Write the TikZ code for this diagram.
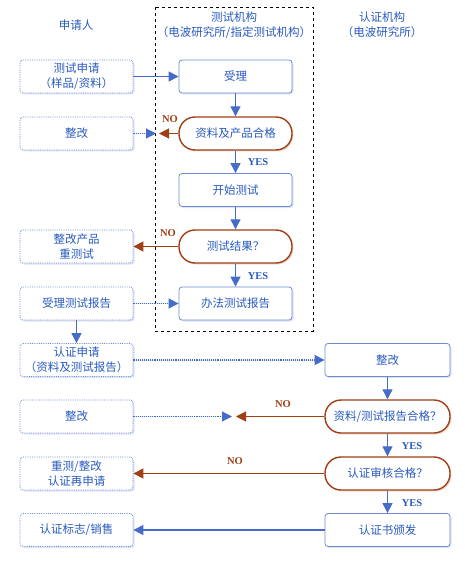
\documentclass[tikz,border=0pt]{standalone}
\usepackage{fontspec}
\setmainfont{Noto Sans CJK SC}
\newfontfamily\labfont{Liberation Serif}
\usepackage{xcolor}
\usetikzlibrary{arrows.meta,shadows}

\definecolor{flowblue}{RGB}{68,108,200}
\definecolor{textblue}{RGB}{40,90,190}
\definecolor{edgeblue}{RGB}{110,140,210}
\definecolor{nobrown}{RGB}{160,62,20}

\begin{document}
\begin{tikzpicture}[x=1pt,y=-1pt,
    font=\fontsize{11.5}{15}\selectfont\color{textblue},
    box/.style={rectangle,rounded corners=3pt,draw=edgeblue,fill=white,
      minimum width=#1,minimum height=33pt,inner sep=1pt,align=center,
      drop shadow={shadow xshift=1.5pt,shadow yshift=-1.5pt,fill=edgeblue!40,opacity=0.6}},
    appbox/.style={box=113pt,densely dotted,thick},
    labbox/.style={box=113pt,thick},
    certbox/.style={box=125pt,thick},
    decide/.style={rectangle,rounded corners=16pt,draw=nobrown,line width=1.4pt,fill=white,
      minimum width=#1,minimum height=33pt,inner sep=1pt,
      drop shadow={shadow xshift=1.5pt,shadow yshift=-1.5pt,fill=nobrown!30,opacity=0.6}},
    flow/.style={draw=flowblue,line width=1.1pt,-{Triangle[width=10pt,length=10pt]},fill=flowblue},
    noflow/.style={draw=nobrown,line width=1.1pt,-{Triangle[width=10pt,length=10pt]},fill=nobrown},
    yes/.style={font=\labfont\bfseries\fontsize{10.5}{12}\selectfont\color{textblue}},
    no/.style={font=\labfont\bfseries\fontsize{10.5}{12}\selectfont\color{nobrown}}]
  \useasboundingbox (0,0) rectangle (464,561);

  % headers
  \node (h1) at (76,25) {申请人};
  \node[align=center] (h2) at (234,25) {测试机构\\（电波研究所/指定测试机构）};
  \node[align=center] (h3) at (382,25) {认证机构\\（电波研究所）};
  \draw[thick,dashed] (155,7) rectangle (313,331);

  % applicant
  \node[appbox] (sq)  at (76.5,76.5)  {测试申请\\（样品/资料）};
  \node[appbox] (zg1) at (76.5,133.5) {整改};
  \node[appbox] (zg2) at (76.5,246.5) {整改产品\\重测试};
  \node[appbox] (slb) at (76.5,303.5) {受理测试报告};
  \node[appbox] (rsq) at (76.5,360)   {认证申请\\（资料及测试报告）};
  \node[appbox] (zg3) at (76.5,416.5) {整改};
  \node[appbox] (zsq) at (76.5,473.5) {重测/整改\\认证再申请};
  \node[appbox] (xs)  at (76.5,530)   {认证标志/销售};

  % test lab
  \node[labbox] (sl)  at (235.5,76.5)  {受理};
  \node[decide=113pt] (hg1) at (235.5,133.5) {资料及产品合格};
  \node[labbox] (ks)  at (235.5,190)   {开始测试};
  \node[decide=113pt] (jg)  at (235.5,246.5) {测试结果？};
  \node[labbox] (bg)  at (235.5,303.5) {办法测试报告};

  % certification body
  \node[certbox] (zg4) at (387.5,360)   {整改};
  \node[decide=125pt] (hg2) at (387.5,416.5) {资料/测试报告合格？};
  \node[decide=125pt] (hg3) at (387.5,473.5) {认证审核合格？};
  \node[certbox] (bf)  at (387.5,530)   {认证书颁发};

  \coordinate (m1) at (156,133.5);
  \coordinate (m1b) at (159,133.5);
  \coordinate (m2) at (232,416.5);
  \coordinate (m2b) at (236,416.5);

  % connectors
  \draw[flow] (sq) -- (sl);
  \draw[flow] (sl) -- (hg1);
  \draw[noflow] (hg1) -- (m1b);
  \draw[flow,densely dotted] (zg1) -- (m1);
  \draw[flow] (hg1) -- (ks);
  \draw[flow] (ks) -- (jg);
  \draw[noflow] (jg) -- (zg2);
  \draw[flow] (jg) -- (bg);
  \draw[flow,densely dotted] (slb) -- (bg);
  \draw[flow] (slb) -- (rsq);
  \draw[flow,densely dotted] (rsq) -- (zg4);
  \draw[flow] (zg4) -- (hg2);
  \draw[noflow] (hg2) -- (m2b);
  \draw[flow,densely dotted] (zg3) -- (m2);
  \draw[flow] (hg2) -- (hg3);
  \draw[noflow] (hg3) -- (zsq);
  \draw[flow] (hg3) -- (bf);
  \draw[flow] (bf) -- (xs);

  % labels
  \node[no]  (n1) at (170,119) {NO};
  \node[no]  (n2) at (168,233) {NO};
  \node[no]  (n3) at (283,404) {NO};
  \node[no]  (n4) at (235,461) {NO};
  \node[yes] (y1) at (258,162) {YES};
  \node[yes] (y2) at (258,276) {YES};
  \node[yes] (y3) at (412,446) {YES};
  \node[yes] (y4) at (412,503) {YES};
\end{tikzpicture}
\end{document}
